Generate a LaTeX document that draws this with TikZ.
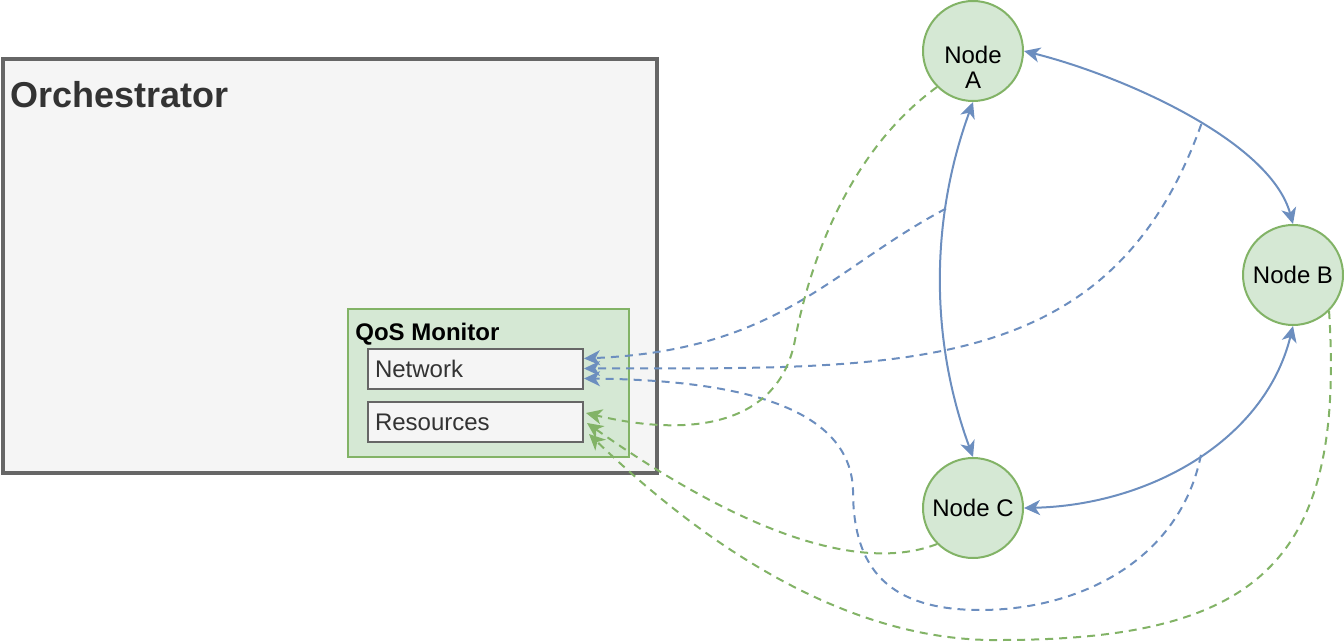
\documentclass[tikz,border=0pt]{standalone}
\usepackage{fontspec}
\setmainfont{Liberation Sans}
\usetikzlibrary{arrows.meta, calc}

\definecolor{peerfill}{HTML}{D5E8D4}
\definecolor{peerline}{HTML}{82B366}
\definecolor{linkblue}{HTML}{6C8EBF}
\definecolor{boxfill}{HTML}{F5F5F5}
\definecolor{boxline}{HTML}{666666}
\definecolor{boxtext}{HTML}{333333}

\begin{document}
\begin{tikzpicture}[x=0.5pt, y=-0.5pt,
    >={Stealth[length=8pt, width=7.5pt, inset=2.3pt]},
    font=\fontsize{12}{12.5}\selectfont,
    peer/.style={draw=peerline, fill=peerfill, line width=1pt, circle, minimum size=50pt, inner sep=0pt},
    store/.style={draw=boxline, fill=boxfill, line width=1pt, text=boxtext, minimum width=107.5pt, minimum height=20pt, inner sep=3.5pt, text width=100.5pt, align=left},
    title/.style={anchor=base west, inner sep=0pt, font=\fontsize{12}{14}\selectfont\bfseries},
    link/.style={draw=linkblue, line width=1pt, <->},
    netprobe/.style={draw=linkblue, line width=1pt, dash pattern=on 4pt off 3pt, ->},
    resprobe/.style={draw=peerline, line width=1pt, dash pattern=on 4pt off 3pt, ->}
]
    \useasboundingbox (0,0) rectangle (1344,642);

    % orchestrator with its monitor
    \node[draw=boxline, fill=boxfill, line width=2pt, minimum width=327pt, minimum height=207pt] (orch) at (330,266) {};
    \node[title, text=boxtext, font=\fontsize{18}{21}\selectfont\bfseries] (orchtitle) at (10,108) {Orchestrator};

    \node[draw=peerline, fill=peerfill, line width=1pt, minimum width=140.5pt, minimum height=74pt] (qos) at (488.5,383) {};
    \node[title] (qostitle) at (355,340) {QoS Monitor};
    \node[store] (net) at (475.5,368.5) {Network};
    \node[store] (res) at (475.5,422) {Resources};

    % nodes
    \node[peer, label={[align=center, yshift=-8pt]center:{Node\\A}}] (A) at (973,51) {};
    \node[peer] (B) at (1293,275) {Node B};
    \node[peer] (C) at (973,508) {Node C};

    % links between nodes
    \draw[link] (A.east) .. controls (1120,75) and (1270,140) .. (B.north) coordinate[pos=0.55] (ab);
    \draw[link] (A.south) .. controls (930,220) and (930,340) .. (C.north) coordinate[pos=0.3] (ac);
    \draw[link] (B.south) .. controls (1265,440) and (1150,505) .. (C.east) coordinate[pos=0.48] (bc);

    % network measurements
    \draw[netprobe] (ac) .. controls (830,270) and (780,350) .. ($(net.east)+(0,-10)$);
    \draw[netprobe] (ab) .. controls (1110,380) and (900,368) .. (net.east);
    \draw[netprobe] (bc) .. controls (1180,560) and (1080,610) .. (980,610)
        .. controls (880,610) and (853,560) .. (853,490)
        .. controls (850,400) and (720,380) .. ($(net.east)+(0,10)$);

    % resource measurements
    \draw[resprobe] (A.-135) .. controls (850,150) and (810,260) .. (795,340)
        .. controls (780,420) and (700,440) .. ($(res.east)+(2,-9)$);
    \draw[resprobe] (C.-135) .. controls (870,570) and (760,545) .. ($(res.east)+(3,1)$);
    \draw[resprobe] (B.-45) .. controls (1345,560) and (1260,640) .. (1000,640)
        .. controls (860,642) and (720,560) .. ($(res.east)+(5,12)$);

\end{tikzpicture}
\end{document}
